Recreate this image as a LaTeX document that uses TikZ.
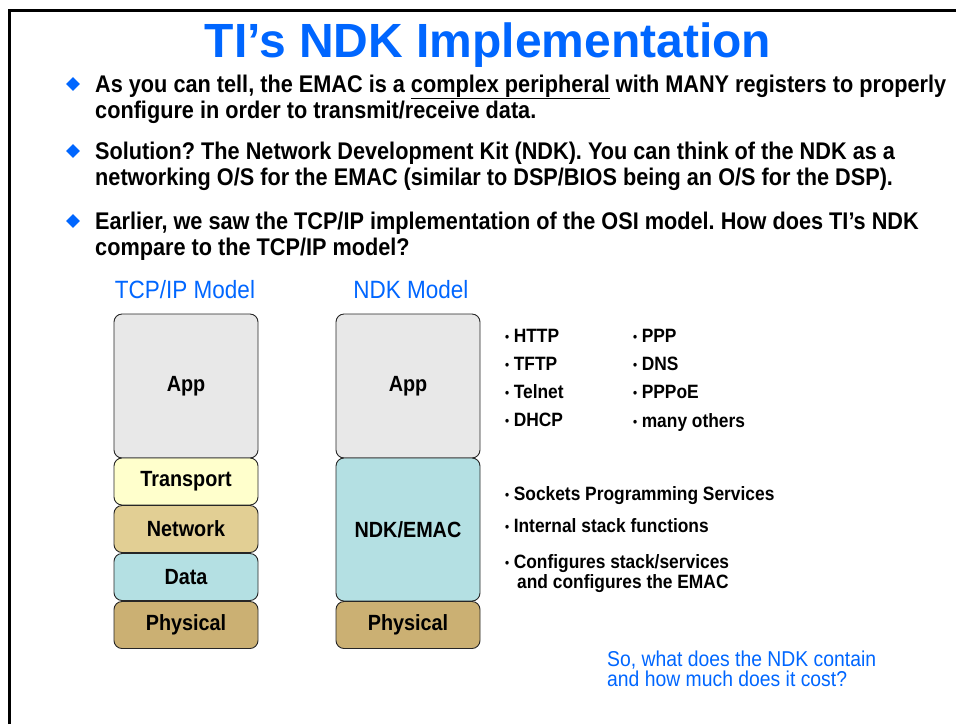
\documentclass[tikz,border=0pt]{standalone}
\usepackage{fontspec}
\setmainfont{Liberation Sans}
\newfontfamily\narrowfont[FakeStretch=0.9]{Liberation Sans}
\usetikzlibrary{shapes.geometric}
\definecolor{tiblue}{RGB}{0,102,255}
\definecolor{appgray}{RGB}{232,232,232}
\definecolor{transyellow}{RGB}{255,255,204}
\definecolor{nettan}{RGB}{226,207,148}
\definecolor{datacyan}{RGB}{180,224,227}
\definecolor{phystan}{RGB}{203,176,115}
\newcommand{\dotmark}{{\fontsize{13}{13}\selectfont\raisebox{0.5pt}{•}}\hspace{4.5pt}}
\tikzset{
  layerbox/.style={draw=black!85, line width=0.9pt, rounded corners=8pt, inner sep=0pt,
    minimum width=144pt, font=\narrowfont\bfseries\fontsize{22}{26}\selectfont},
  bodytext/.style={anchor=base west, inner sep=0pt, font=\narrowfont\bfseries\fontsize{24.1}{28}\selectfont},
  smalltext/.style={anchor=base west, inner sep=0pt, font=\narrowfont\bfseries\fontsize{19.3}{23}\selectfont},
  bluetext/.style={anchor=base west, inner sep=0pt, text=tiblue, font=\narrowfont\fontsize{21.5}{25}\selectfont},
  headtext/.style={anchor=base, inner sep=0pt, text=tiblue, font=\narrowfont\fontsize{25}{29}\selectfont},
  bulletmark/.style={diamond, fill=tiblue, inner sep=0pt, minimum width=14pt, minimum height=14pt}
}
\begin{document}
\frenchspacing
\begin{tikzpicture}[x=1pt,y=-1pt]
\useasboundingbox (0,0) rectangle (956,724);
\coordinate (fl) at (9,724);
\coordinate (ftl) at (9,10);
\coordinate (ftr) at (956,10);
\draw[line width=3pt] (fl) -- (ftl) -- (ftr);

\node[anchor=base, inner sep=0pt, text=tiblue, font=\bfseries\fontsize{48}{56}\selectfont] (title) at (488,57) {TI’s NDK Implementation};

\node[bulletmark] (b1) at (73,84) {};
\node[bodytext] (t1a) at (95,92) {As you can tell, the EMAC is a \underline{complex peripheral} with MANY registers to properly};
\node[bodytext] (t1b) at (95,118) {configure in order to transmit/receive data.};
\node[bulletmark] (b2) at (73,151) {};
\node[bodytext] (t2a) at (95,159) {Solution? The Network Development Kit (NDK). You can think of the NDK as a};
\node[bodytext] (t2b) at (95,185) {networking O/S for the EMAC (similar to DSP/BIOS being an O/S for the DSP).};
\node[bulletmark] (b3) at (73,221) {};
\node[bodytext] (t3a) at (95,229) {Earlier, we saw the TCP/IP implementation of the OSI model. How does TI’s NDK};
\node[bodytext] (t3b) at (95,255) {compare to the TCP/IP model?};

\node[headtext] (h1) at (185,298) {TCP/IP Model};
\node[headtext] (h2) at (411,298) {NDK Model};

% TCP/IP column
\node[layerbox, fill=appgray, minimum height=144pt] (app1) at (186,386) {App};
\node[layerbox, fill=transyellow, minimum height=47pt] (trans) at (186,481.5) {Transport};
\node[layerbox, fill=nettan, minimum height=47pt] (net) at (186,529) {Network};
\node[layerbox, fill=datacyan, minimum height=47pt] (data) at (186,577) {Data};
\node[layerbox, fill=phystan, minimum height=47pt] (phys1) at (186,625) {Physical};

% NDK column
\node[layerbox, fill=appgray, minimum height=144pt] (app2) at (408,386) {App};
\node[layerbox, fill=datacyan, minimum height=143pt] (ndk) at (408,529.5) {NDK/EMAC};
\node[layerbox, fill=phystan, minimum height=47pt] (phys2) at (408,625) {Physical};

% protocol lists
\node[smalltext] (p1) at (505,342) {\dotmark HTTP};
\node[smalltext] (p2) at (505,370) {\dotmark TFTP};
\node[smalltext] (p3) at (505,398) {\dotmark Telnet};
\node[smalltext] (p4) at (505,426) {\dotmark DHCP};
\node[smalltext] (p5) at (633,342) {\dotmark PPP};
\node[smalltext] (p6) at (633,370) {\dotmark DNS};
\node[smalltext] (p7) at (633,398) {\dotmark PPPoE};
\node[smalltext] (p8) at (633,427) {\dotmark many others};

\node[smalltext] (s1) at (505,500) {\dotmark Sockets Programming Services};
\node[smalltext] (s2) at (505,532) {\dotmark Internal stack functions};
\node[smalltext] (s3) at (505,568) {\dotmark Configures stack/services};
\node[smalltext] (s4) at (517,588) {and configures the EMAC};

\node[bluetext] (q1) at (607,666) {So, what does the NDK contain};
\node[bluetext] (q2) at (607,686) {and how much does it cost?};
\end{tikzpicture}
\end{document}
